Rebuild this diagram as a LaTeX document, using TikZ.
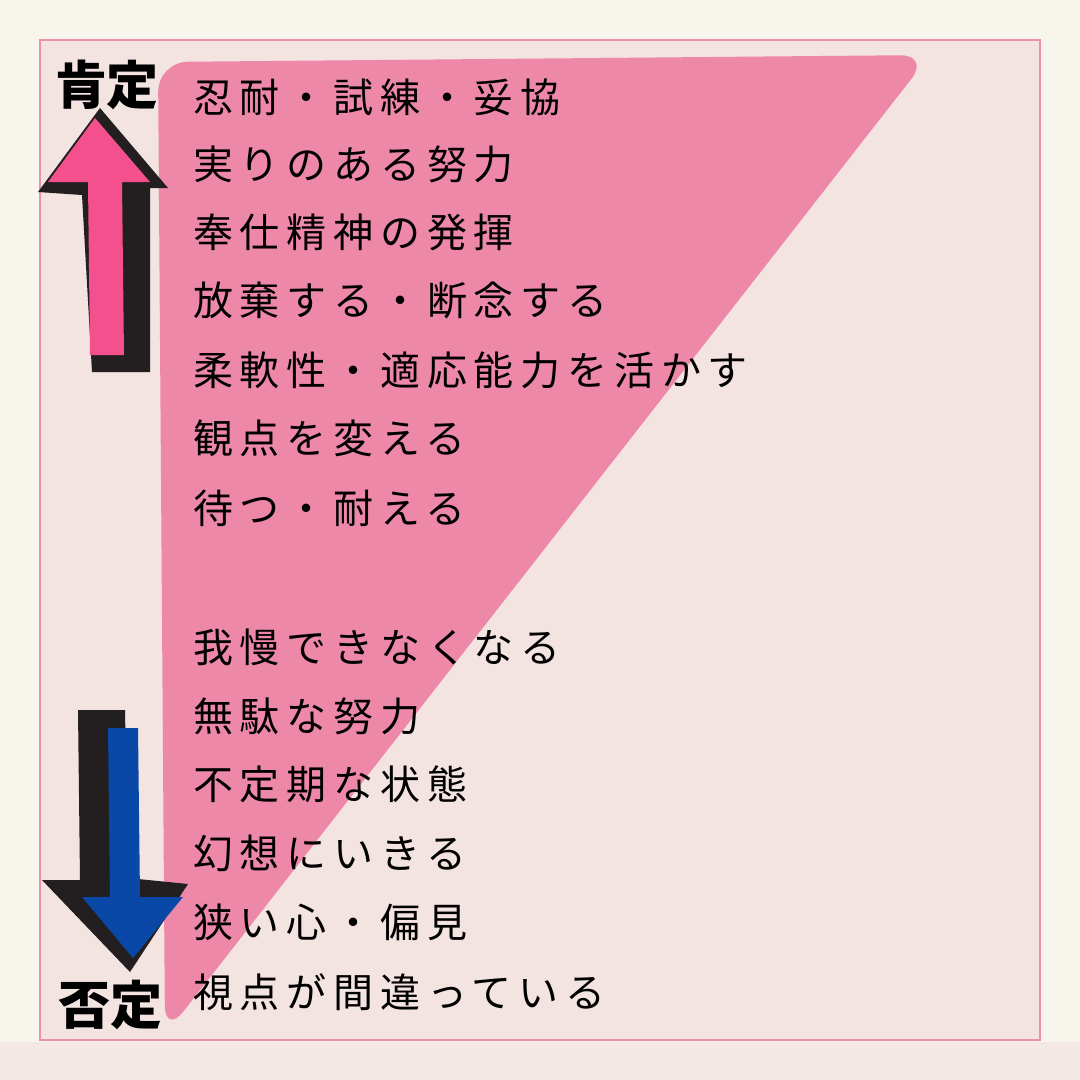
\documentclass[tikz,border=0pt]{standalone}
\usepackage{fontspec}
\newfontfamily\jp{Noto Sans CJK JP}[LetterSpace=17]
\newfontfamily\jpb{Noto Sans CJK JP Black}
\definecolor{bg}{HTML}{F7F5EC}
\definecolor{panel}{HTML}{F3E3E1}
\definecolor{tri}{HTML}{EE88A8}
\definecolor{frame}{HTML}{EE8FAE}
\definecolor{pinkA}{HTML}{F4508E}
\definecolor{blueA}{HTML}{0A48A8}
\definecolor{shadowc}{HTML}{231F20}
\tikzset{item/.style={anchor=west,font=\jp\fontsize{40}{40}\selectfont,text=black,inner sep=0pt},
lbl/.style={font=\jpb\fontsize{52}{52}\selectfont,text=black,inner sep=0pt}}
\begin{document}
\begin{tikzpicture}[x=1pt,y=-1pt]
\fill[bg] (0,0) rectangle (1080,1080);
\fill[panel!70!bg] (0,1042) rectangle (1080,1080);
\useasboundingbox (0,0) rectangle (1080,1080);
\draw[frame,fill=panel,line width=1.5pt] (40,40) rectangle (1040,1040);
\fill[tri,rounded corners=30pt] (158,62) -- (930,55) -- (165,1035) -- cycle;
% up arrow shadow
\fill[shadowc,line join=round] (100,108) -- (168,188) -- (150,188) -- (150,372) -- (92,372) -- (82,195) -- (38,192) -- cycle;
\fill[pinkA] (95,118) -- (150,182) -- (122,182) -- (124,355) -- (90,355) -- (88,182) -- (48,182) -- cycle;
% down arrow shadow
\fill[shadowc] (78,710) -- (125,710) -- (128,878) -- (188,884) -- (130,972) -- (42,880) -- (80,880) -- cycle;
\fill[blueA] (108,728) -- (138,728) -- (140,897) -- (183,897) -- (133,958) -- (82,897) -- (110,897) -- cycle;
\node[lbl] (pos) at (107,85) {肯定};
\node[lbl] (neg) at (110,1005) {否定};
\node[item] (t1) at (193,97) {忍耐・試練・妥協};
\node[item] (t2) at (193,164) {実りのある努力};
\node[item] (t3) at (193,232) {奉仕精神の発揮};
\node[item] (t4) at (193,300) {放棄する・断念する};
\node[item] (t5) at (193,370) {柔軟性・適応能力を活かす};
\node[item] (t6) at (193,438) {観点を変える};
\node[item] (t7) at (193,508) {待つ・耐える};
\node[item] (b1) at (193,647) {我慢できなくなる};
\node[item] (b2) at (193,716) {無駄な努力};
\node[item] (b3) at (193,784) {不定期な状態};
\node[item] (b4) at (193,853) {幻想にいきる};
\node[item] (b5) at (193,922) {狭い心・偏見};
\node[item] (b6) at (193,992) {視点が間違っている};
\end{tikzpicture}
\end{document}
